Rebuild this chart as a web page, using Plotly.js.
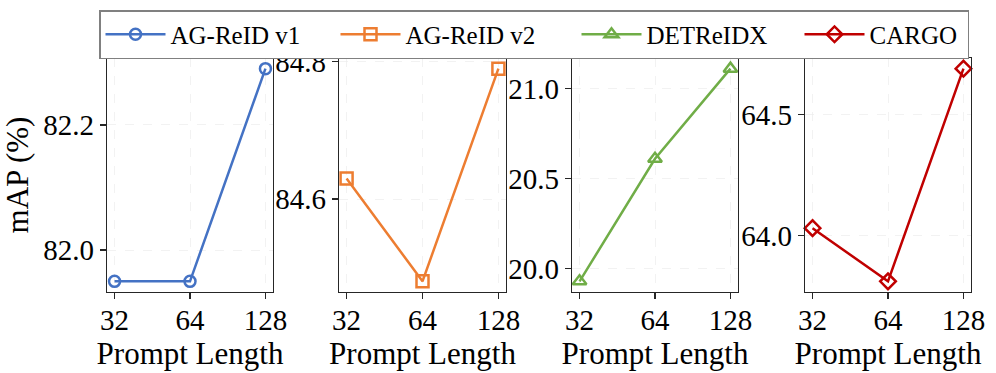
<!DOCTYPE html>
<html>
<head>
<meta charset="utf-8">
<script src="https://cdn.plot.ly/plotly-3.0.1.min.js"></script>
<style>
  html, body { margin: 0; padding: 0; background: #fff; }
  #chart { width: 996px; height: 373px; }
</style>
</head>
<body>
<div id="chart"></div>
<script>
var promptLengths = ['32', '64', '128'];

var agReidV1 = [81.95, 81.95, 82.29];
var agReidV2 = [84.63, 84.48, 84.79];
var detReidx = [19.93, 20.61, 21.11];
var cargo = [64.03, 63.81, 64.69];

var seriesNames = ['AG-ReID v1', 'AG-ReID v2', 'DETReIDX', 'CARGO'];
var seriesValues = [agReidV1, agReidV2, detReidx, cargo];
var yTickSteps = [0.2, 0.2, 0.5, 0.5];

var colours = ['#4472C4', '#ED7D31', '#70AD47', '#C00000'];
var symbols = ['circle-open', 'square-open', 'triangle-up-open', 'diamond-open'];
var markerSizes = [11, 12, 12, 12];
var legendWidths = [160, 166, 148, 93];

var font = '"Liberation Serif", "Times New Roman", Times, serif';

// panel boxes in pixels of the 996x373 page
var xDomains = [[107, 273], [339, 506], [572, 738], [805, 971]];
var yDomain = [(373 - 292) / 373, (373 - 58) / 373];

var data = [];
var layout = {
  width: 996,
  height: 373,
  margin: {l: 0, r: 0, t: 0, b: 0},
  paper_bgcolor: '#fff',
  plot_bgcolor: '#fff',
  font: {family: font, size: 29, color: '#000'},
  showlegend: true,
  legend: {
    orientation: 'h',
    x: 99 / 996,
    xanchor: 'left',
    y: (373 - 10) / 373,
    yanchor: 'top',
    bordercolor: '#808080',
    borderwidth: 1.5,
    bgcolor: '#fff',
    font: {family: font, size: 25, color: '#000'},
    itemwidth: 60
  }
};

var axisLine = {
  showline: true,
  mirror: true,
  linecolor: '#262626',
  linewidth: 1.3,
  ticks: 'outside',
  ticklen: 6,
  tickwidth: 1.2,
  tickcolor: '#262626',
  showgrid: true,
  gridcolor: '#ececec',
  gridwidth: 0.7,
  griddash: 'dash',
  zeroline: false,
  automargin: false
};

for (var i = 0; i < seriesValues.length; i++) {
  var n = i === 0 ? '' : String(i + 1);
  var xl = 'x' + (i + 5);

  data.push({
    x: [0, 1, 2],
    y: seriesValues[i],
    name: seriesNames[i],
    legendwidth: legendWidths[i],
    type: 'scatter',
    mode: 'lines+markers',
    xaxis: 'x' + n,
    yaxis: 'y' + n,
    line: {color: colours[i], width: 2.5},
    marker: {symbol: symbols[i], size: markerSizes[i], color: colours[i], line: {width: 2.5, color: colours[i]}},
    cliponaxis: false
  });

  // same points, not shown, so the label axis gets a subplot
  data.push({
    x: [0, 1, 2],
    y: seriesValues[i],
    type: 'scatter',
    mode: 'markers',
    marker: {opacity: 0},
    showlegend: false,
    hoverinfo: 'skip',
    xaxis: xl,
    yaxis: 'y' + n
  });

  var lo = Math.min.apply(null, seriesValues[i]);
  var hi = Math.max.apply(null, seriesValues[i]);
  var pad = (hi - lo) * 0.05;

  // frame, tick marks and grid
  layout['xaxis' + n] = Object.assign({}, axisLine, {
    domain: [xDomains[i][0] / 996, xDomains[i][1] / 996],
    anchor: 'y' + n,
    range: [-0.1, 2.1],
    tickvals: [0, 1, 2],
    showticklabels: false
  });

  // tick labels and title on an overlaying axis without tick marks
  layout['xaxis' + (i + 5)] = {
    overlaying: 'x' + n,
    anchor: 'y' + n,
    side: 'bottom',
    range: [-0.1, 2.1],
    tickvals: [0, 1, 2],
    ticktext: promptLengths,
    ticks: 'outside',
    ticklen: 2,
    tickcolor: 'rgba(0,0,0,0)',
    showline: false,
    showgrid: false,
    zeroline: false,
    automargin: false,
    tickfont: {family: font, size: 29},
    title: {text: 'Prompt Length', font: {family: font, size: 31}, standoff: 0}
  };

  layout['yaxis' + n] = Object.assign({}, axisLine, {
    domain: yDomain,
    anchor: 'x' + n,
    range: [lo - pad, hi + pad],
    dtick: yTickSteps[i],
    tickformat: '.1f',
    tickfont: {family: font, size: 29}
  });
}

layout.yaxis.title = {text: 'mAP (%)', font: {family: font, size: 31}, standoff: 6};

Plotly.newPlot('chart', data, layout, {displayModeBar: false, staticPlot: true});
</script>
</body>
</html>
